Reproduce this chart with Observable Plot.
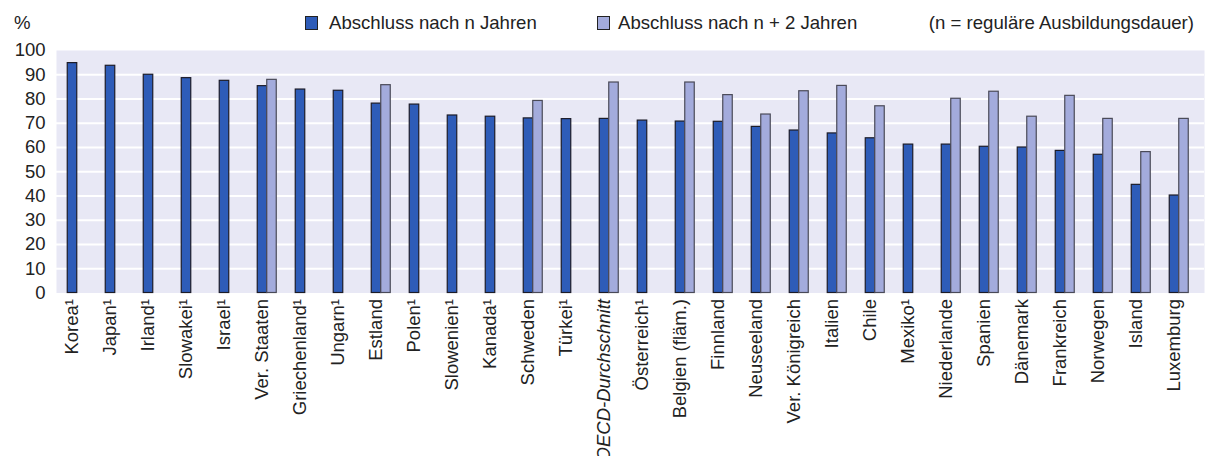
<!DOCTYPE html>
<html>
<head>
<meta charset="utf-8">
<script src="https://cdn.jsdelivr.net/npm/d3@7"></script>
<script src="https://cdn.jsdelivr.net/npm/@observablehq/plot@0.6"></script>
<style>
  html, body { margin: 0; padding: 0; background: #fff; }
  body { width: 1208px; height: 456px; overflow: hidden; font-family: "Liberation Sans", Arial, sans-serif; color: #222; }
  #header { position: relative; height: 40px; font-size: 18.6px; line-height: 20px; }
  #header span { position: absolute; top: 13px; white-space: nowrap; }
  .sw { position: absolute; top: 16px; width: 13px; height: 14px; box-sizing: border-box; border: 1px solid #222; }
</style>
</head>
<body>
<div id="header"></div>
<div id="chart"></div>
<script>
const countries = ["Korea¹","Japan¹","Irland¹","Slowakei¹","Israel¹","Ver. Staaten","Griechenland¹","Ungarn¹","Estland","Polen¹","Slowenien¹","Kanada¹","Schweden","Türkei¹","OECD-Durchschnitt","Österreich¹","Belgien (fläm.)","Finnland","Neuseeland","Ver. Königreich","Italien","Chile","Mexiko¹","Niederlande","Spanien","Dänemark","Frankreich","Norwegen","Island","Luxemburg"];
const afterN = [94.8, 93.7, 90.0, 88.6, 87.5, 85.3, 83.9, 83.4, 78.1, 77.7, 73.2, 72.7, 72.0, 71.7, 71.8, 71.1, 70.7, 70.6, 68.5, 67.0, 65.8, 63.8, 61.2, 61.2, 60.3, 60.0, 58.6, 57.0, 44.6, 40.2];
const afterN2 = [null, null, null, null, null, 87.9, null, null, 85.7, null, null, null, 79.2, null, 86.8, null, 86.8, 81.6, 73.6, 83.2, 85.4, 77.0, null, 80.1, 83.0, 72.7, 81.3, 71.8, 58.1, 71.8];
const seriesNames = ["Abschluss nach n Jahren", "Abschluss nach n + 2 Jahren"];
const noteText = "(n = reguläre Ausbildungsdauer)";
const unitLabel = "%";
const yTicks = [0, 10, 20, 30, 40, 50, 60, 70, 80, 90, 100];

const colors = ["#2e5cb8", "#a3abdc"];

const dataN = countries.map((c, i) => ({country: c, value: afterN[i]}));
const dataN2 = countries.map((c, i) => ({country: c, value: afterN2[i]})).filter(d => d.value != null);

// Header (unit + legend + note)
const header = document.getElementById("header");
header.innerHTML = `
  <span style="left:14px">${unitLabel}</span>
  <div class="sw" style="left:305px;background:${colors[0]}"></div>
  <span style="left:329px">${seriesNames[0]}</span>
  <div class="sw" style="left:597px;background:${colors[1]}"></div>
  <span style="left:618px">${seriesNames[1]}</span>
  <span style="right:14px">${noteText}</span>`;

const bw = 9.5;
const chart = Plot.plot({
  width: 1208,
  height: 416,
  marginTop: 10,
  marginBottom: 163.5,
  marginLeft: 56,
  marginRight: 4,
  style: {fontFamily: "Liberation Sans, Arial, sans-serif", fontSize: "18.5px", color: "#222", background: "transparent"},
  x: {domain: countries, range: [53, 1193], paddingInner: 0.75, paddingOuter: 0.375, round: false},
  y: {domain: [0, 100], range: [252.5, 10]},
  marks: [
    Plot.frame({fill: "#e8e8f5", stroke: null}),
    Plot.gridY(yTicks.filter(t => t > 0 && t < 100), {stroke: "#fff", strokeOpacity: 1, strokeWidth: 2}),
    Plot.barY(dataN, {x: "country", y: "value", fill: colors[0], stroke: "#1c1c28", strokeWidth: 1.2}),
    Plot.barY(dataN2, {x: "country", y: "value", fill: colors[1], stroke: "#4a4a58", strokeWidth: 1.2, dx: bw}),
    Plot.axisY({ticks: yTicks, tickSize: 0, tickPadding: 11, fontSize: 18.5, label: null}),
    Plot.axisX({tickRotate: -90, tickSize: 0, tickPadding: 6, fontSize: 18.5, label: null})
  ]
});
document.getElementById("chart").appendChild(chart);

chart.querySelectorAll("text").forEach(t => {
  if (t.textContent === "OECD-Durchschnitt") t.style.fontStyle = "italic";
});
</script>
</body>
</html>
